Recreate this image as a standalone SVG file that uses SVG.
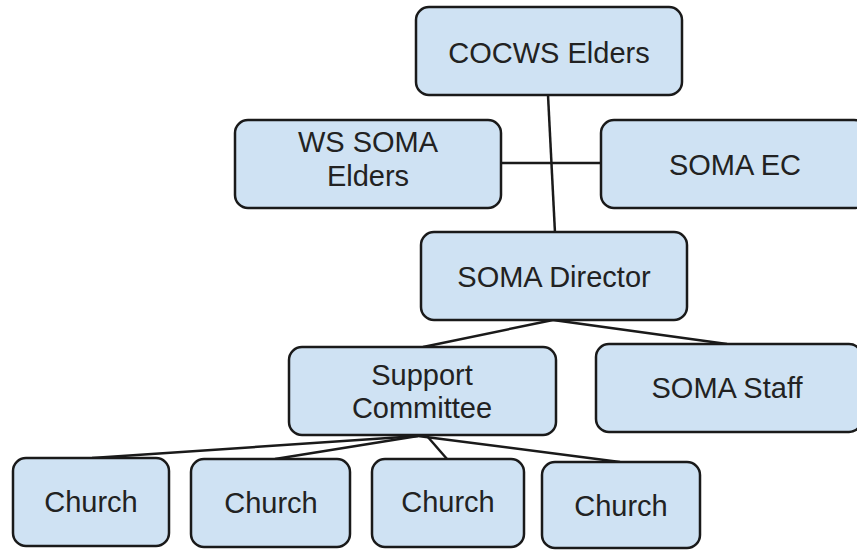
<svg xmlns="http://www.w3.org/2000/svg" width="857" height="550" viewBox="0 0 857 550">
<style>
.box{fill:#cfe2f3;stroke:#1a1a1a;stroke-width:2.5}
.lbl{font-family:"Liberation Sans",Arial,sans-serif;font-size:29px;fill:#222;text-anchor:middle}
.con{stroke:#1a1a1a;stroke-width:2.5;fill:none}
</style>
<rect width="857" height="550" fill="#fff"/>
<g id="connectors">
<line class="con" x1="548" y1="95" x2="555" y2="233"/>
<line class="con" x1="501" y1="163" x2="601" y2="163"/>
<line class="con" x1="553" y1="320" x2="423" y2="347"/>
<line class="con" x1="553" y1="320" x2="727" y2="344"/>
<line class="con" x1="418" y1="436" x2="92" y2="458"/>
<line class="con" x1="418" y1="436" x2="275" y2="459"/>
<line class="con" x1="427" y1="436" x2="447" y2="459"/>
<line class="con" x1="418" y1="436" x2="620" y2="462"/>
</g>
<g id="cocws"><rect class="box" x="416" y="7" width="266" height="88" rx="13"/><text class="lbl" x="549" y="63">COCWS Elders</text></g>
<g id="wssoma"><rect class="box" x="235" y="120" width="266" height="88" rx="13"/><text class="lbl" x="368" y="152">WS SOMA</text><text class="lbl" x="368" y="186">Elders</text></g>
<g id="somaec"><rect class="box" x="601" y="120" width="266" height="88" rx="13"/><text class="lbl" x="735" y="175">SOMA EC</text></g>
<g id="director"><rect class="box" x="421" y="232" width="266" height="88" rx="13"/><text class="lbl" x="554" y="287">SOMA Director</text></g>
<g id="support"><rect class="box" x="289" y="347" width="267" height="88" rx="13"/><text class="lbl" x="422" y="385">Support</text><text class="lbl" x="422" y="418">Committee</text></g>
<g id="staff"><rect class="box" x="596" y="344" width="266" height="88" rx="13"/><text class="lbl" x="727" y="398">SOMA Staff</text></g>
<g id="church1"><rect class="box" x="13" y="458" width="156" height="88" rx="13"/><text class="lbl" x="91" y="512">Church</text></g>
<g id="church2"><rect class="box" x="191" y="459" width="159" height="88" rx="13"/><text class="lbl" x="271" y="513">Church</text></g>
<g id="church3"><rect class="box" x="372" y="459" width="152" height="88" rx="13"/><text class="lbl" x="448" y="512">Church</text></g>
<g id="church4"><rect class="box" x="542" y="462" width="158" height="86" rx="13"/><text class="lbl" x="621" y="516">Church</text></g>
</svg>
